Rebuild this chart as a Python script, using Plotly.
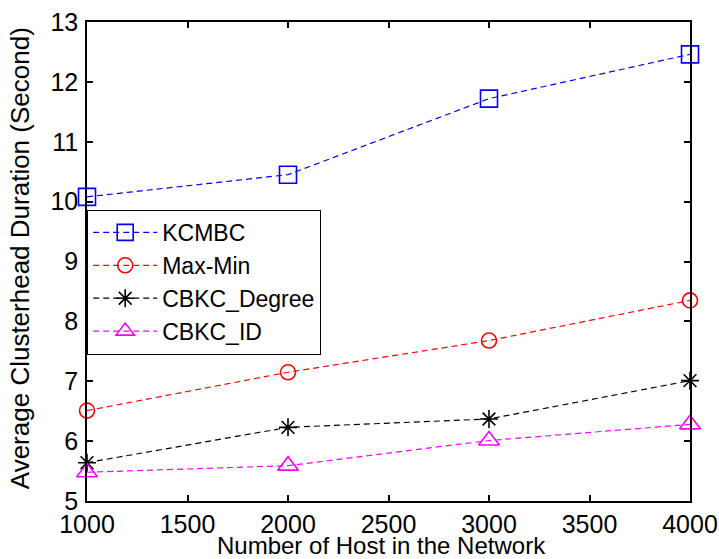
import plotly.graph_objects as go

hosts = [1000, 2000, 3000, 4000]
kcmbc = [10.08, 10.45, 11.72, 12.46]
maxmin = [6.51, 7.15, 7.68, 8.35]
cbkc_degree = [5.64, 6.23, 6.37, 7.01]
cbkc_id = [5.48, 5.59, 6.01, 6.28]

x_ticks = [1000, 1500, 2000, 2500, 3000, 3500, 4000]
y_ticks = [5, 6, 7, 8, 9, 10, 11, 12, 13]

x_title = "Number of Host in the Network"
y_title = "Average Clusterhead Duration (Second)"

FONT = "Liberation Sans, Arial, Helvetica, sans-serif"
FS = 25

series = [
    ("KCMBC", kcmbc, "#0000FF", "square-open", 17),
    ("Max-Min", maxmin, "#FF0000", "circle-open", 15),
    ("CBKC_Degree", cbkc_degree, "#000000", "asterisk-open", 15),
    ("CBKC_ID", cbkc_id, "#FF00FF", "triangle-up-open", 18),
]

fig = go.Figure()
for name, vals, color, sym, size in series:
    fig.add_trace(go.Scatter(
        x=hosts, y=vals, name=name, mode="lines+markers",
        line=dict(color=color, width=1.2, dash="6px,4px"),
        marker=dict(symbol=sym, size=size, color=color,
                    line=dict(color=color, width=1.6)),
        cliponaxis=False,
    ))

axis_common = dict(
    showgrid=False, zeroline=False, showline=True, linecolor="black",
    linewidth=1.5, mirror="ticks", ticks="inside", ticklen=6,
    tickcolor="black", tickwidth=1.5, automargin=False,
    tickfont=dict(family=FONT, size=FS, color="black"),
)

fig.update_layout(
    width=719, height=559,
    margin=dict(l=87, r=29, t=22, b=58, autoexpand=False),
    paper_bgcolor="white", plot_bgcolor="white",
    font=dict(family=FONT, size=FS, color="black"),
    xaxis=dict(range=[1000, 4000], tickvals=x_ticks, ticklabelstandoff=0,
               **axis_common),
    yaxis=dict(range=[5, 13], tickvals=y_ticks, ticklabelstandoff=2,
               **axis_common),
    legend=dict(x=0, y=0.608, xanchor="left", yanchor="top",
                bgcolor="white", bordercolor="black", borderwidth=1.2,
                font=dict(family=FONT, size=23, color="black"),
                itemwidth=64, tracegroupgap=0, entrywidth=250),
    showlegend=True,
    annotations=[
        dict(text=x_title, xref="paper", yref="paper", x=0.4876, y=-0.092,
             xanchor="center", yanchor="middle", showarrow=False,
             font=dict(family=FONT, size=24, color="black")),
        dict(text=y_title, xref="paper", yref="paper", x=-0.111, y=0.507,
             xanchor="center", yanchor="middle", showarrow=False,
             textangle=-90,
             font=dict(family=FONT, size=26, color="black")),
    ],
)

fig.write_html(
    "out.html",
    config={"displayModeBar": False},
    post_script="document.body.style.margin='0';document.body.style.overflow='hidden';",
)
